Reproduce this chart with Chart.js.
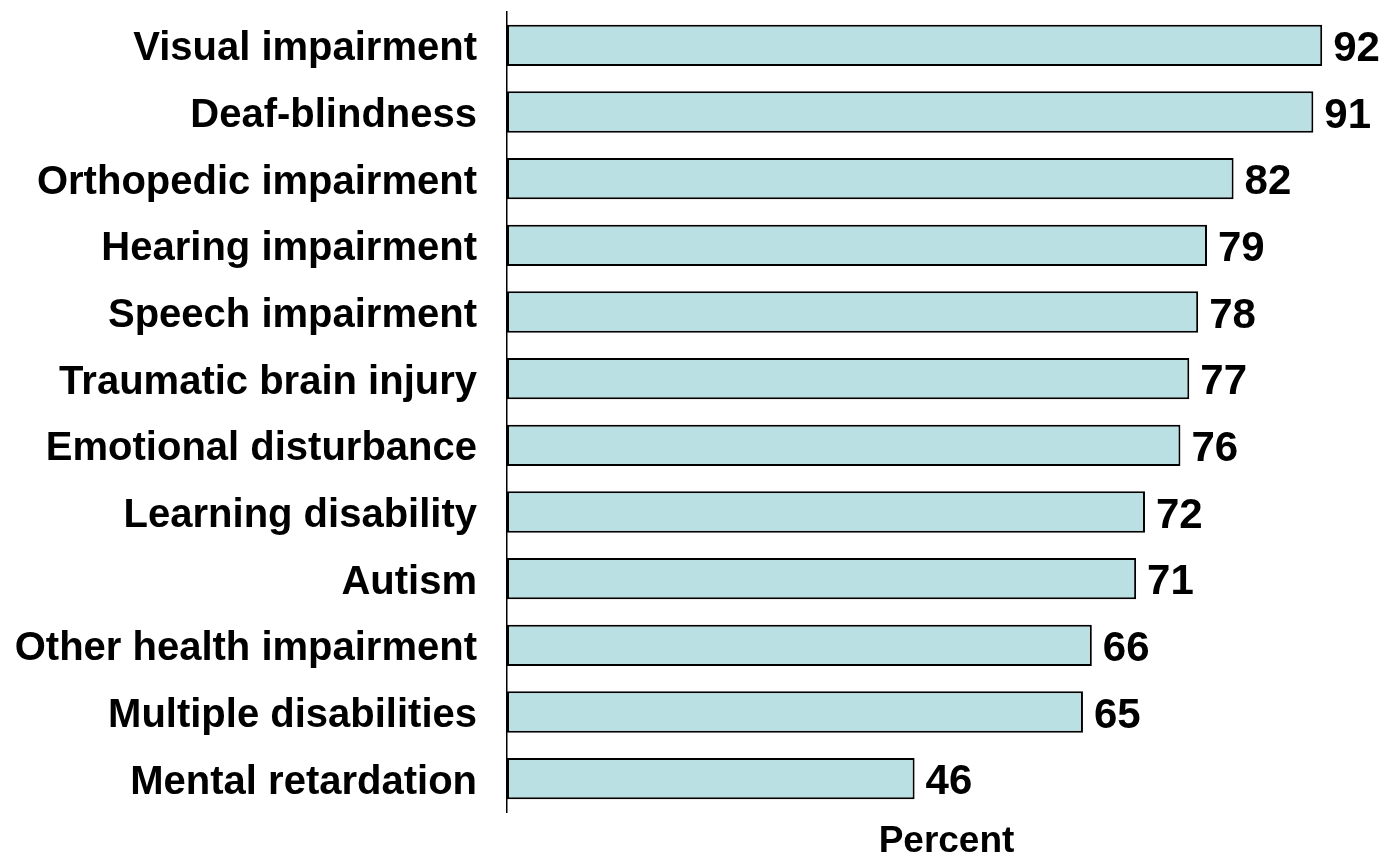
<!DOCTYPE html>
<html>
<head>
<meta charset="utf-8">
<script src="https://cdn.jsdelivr.net/npm/chart.js@4"></script>
<style>
  html, body { margin: 0; padding: 0; background: #ffffff; overflow: hidden; }
  #wrap { width: 1386px; height: 856px; }
</style>
</head>
<body>
<div id="wrap"><canvas id="c" width="1386" height="856"></canvas></div>
<script>
const categories = [
  "Visual impairment",
  "Deaf-blindness",
  "Orthopedic impairment",
  "Hearing impairment",
  "Speech impairment",
  "Traumatic brain injury",
  "Emotional disturbance",
  "Learning disability",
  "Autism",
  "Other health impairment",
  "Multiple disabilities",
  "Mental retardation"
];
const percentValues = [92, 91, 82, 79, 78, 77, 76, 72, 71, 66, 65, 46];
const axisTitle = "Percent";

const FONT = "'Liberation Sans', Arial, Helvetica, sans-serif";

const valueLabels = {
  id: 'valueLabels',
  afterDatasetsDraw(chart) {
    const ctx = chart.ctx;
    const meta = chart.getDatasetMeta(0);
    ctx.save();
    ctx.font = "bold 42px " + FONT;
    ctx.fillStyle = "#000000";
    ctx.textAlign = "left";
    ctx.textBaseline = "middle";
    meta.data.forEach((bar, i) => {
      ctx.fillText(String(percentValues[i]), bar.x + 11, bar.y + 4);
    });
    ctx.restore();
  }
};

new Chart(document.getElementById('c'), {
  type: 'bar',
  data: {
    labels: categories,
    datasets: [{
      data: percentValues,
      backgroundColor: '#BBE0E3',
      borderColor: '#000000',
      borderWidth: 2,
      borderSkipped: false,
      barPercentage: 0.62,
      categoryPercentage: 1.0
    }]
  },
  options: {
    indexAxis: 'y',
    responsive: false,
    animation: false,
    devicePixelRatio: 1,
    layout: { padding: { top: 12, left: 0, right: 0, bottom: 0 } },
    plugins: {
      legend: { display: false },
      tooltip: { enabled: false }
    },
    scales: {
      x: {
        min: 0,
        max: 99.2,
        grid: { display: false, drawTicks: false },
        border: { display: false },
        ticks: { display: false },
        title: {
          display: true,
          text: axisTitle,
          color: '#000000',
          font: { family: FONT, size: 37, weight: 'bold', lineHeight: 0.75 },
          padding: { top: 0, bottom: 0 }
        },
        afterFit(scale) {
          scale.height = 44;
          scale.paddingLeft = 0;
          scale.paddingRight = 0;
        }
      },
      y: {
        grid: { display: false, drawTicks: false },
        border: { display: true, color: '#000000', width: 1.5 },
        ticks: {
          color: '#000000',
          padding: 30,
          labelOffset: 4,
          font: { family: FONT, size: 40, weight: 'bold' }
        },
        afterFit(scale) {
          scale.width = 507;
          scale.paddingTop = 0;
          scale.paddingBottom = 0;
        }
      }
    }
  },
  plugins: [valueLabels]
});
</script>
</body>
</html>
